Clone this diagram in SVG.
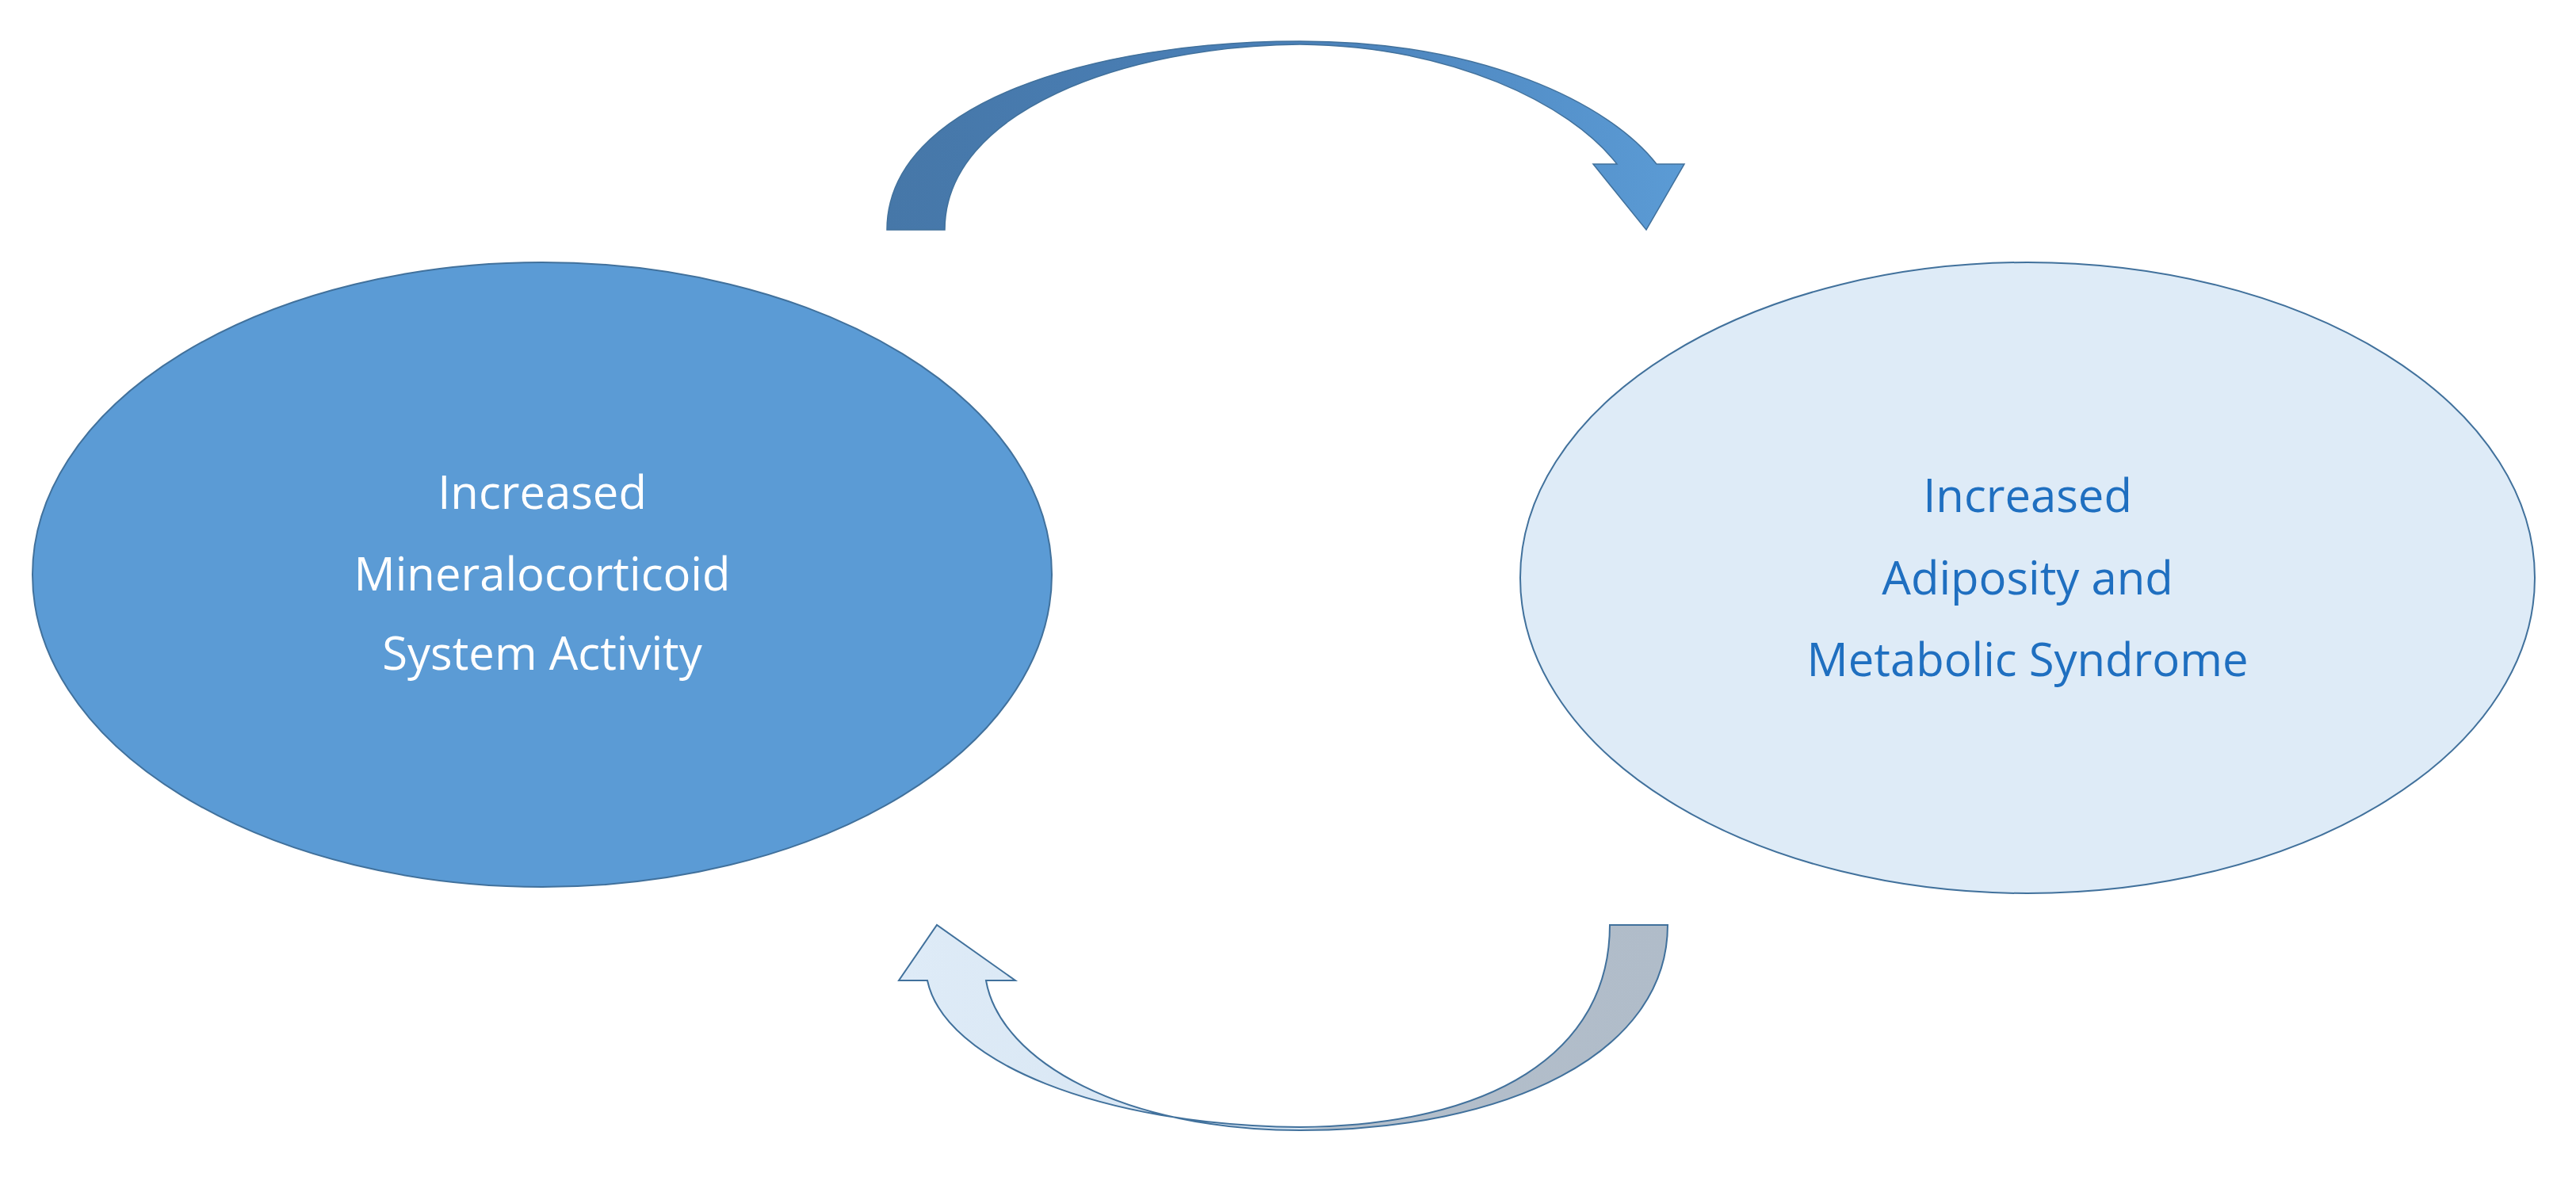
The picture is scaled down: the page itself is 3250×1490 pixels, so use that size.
<svg xmlns="http://www.w3.org/2000/svg" width="3250" height="1490" viewBox="0 0 3250 1490">
<style>
text{font-family:"Open Sans","Liberation Sans",sans-serif;font-size:58px;text-anchor:middle}
.w{fill:#fff}.b{fill:#1f6fc0}
</style>
<defs>
<linearGradient id="gt" x1="1119" y1="0" x2="2125" y2="0" gradientUnits="userSpaceOnUse">
<stop offset="0" stop-color="#4677a8"/><stop offset="0.5" stop-color="#4a80b8"/><stop offset="1" stop-color="#5b9bd5"/>
</linearGradient>
<linearGradient id="gb" x1="1134" y1="0" x2="2104" y2="0" gradientUnits="userSpaceOnUse">
<stop offset="0" stop-color="#deebf7"/><stop offset="0.52" stop-color="#d6e4f2"/><stop offset="0.56" stop-color="#b4bfcb"/><stop offset="1" stop-color="#b0bcc9"/>
</linearGradient>
</defs>
<rect width="3250" height="1490" fill="#fff"/>
<g id="node-left">
<ellipse cx="684" cy="725" rx="643" ry="394" fill="#5b9bd5" stroke="#41719c" stroke-width="2"/>
<text class="w" x="684" y="642">Increased</text>
<text class="w" x="684" y="745">Mineralocorticoid</text>
<text class="w" x="684" y="845">System Activity</text>
</g>
<g id="node-right">
<ellipse cx="2558" cy="729" rx="640" ry="398" fill="#deebf7" stroke="#41719c" stroke-width="2"/>
<text class="b" x="2558" y="646">Increased</text>
<text class="b" x="2558" y="750">Adiposity and</text>
<text class="b" x="2558" y="853">Metabolic Syndrome</text>
</g>
<g id="connectors">
<path d="M1119,290 C1119,130 1380,52 1640,52 C1870,52 2030,130 2090,207 L2125,207 L2077,290 L2010,207 L2040,207 C1980,130 1830,58 1640,56 C1420,58 1192,140 1192,290 Z" fill="url(#gt)" stroke="#41719c" stroke-width="1.5"/>
<path d="M2104,1167 C2104,1330 1900,1426 1640,1426 C1420,1426 1262,1340 1244,1237 L1281,1237 L1182,1167 L1134,1237 L1170,1237 C1192,1340 1390,1420 1640,1422 C1880,1420 2031,1330 2031,1167 Z" fill="url(#gb)" stroke="#41719c" stroke-width="2"/>
</g>
</svg>
